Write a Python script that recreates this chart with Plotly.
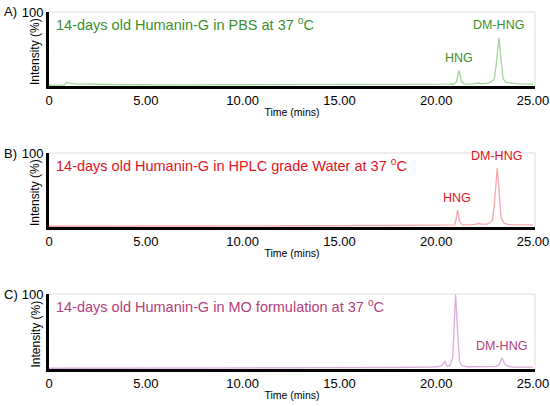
import plotly.graph_objects as go

# retention time (mins) and relative intensity (%)
time_a = [0, 0.6, 0.8, 0.9, 1.0, 1.3, 1.8, 3, 6, 10, 14, 18, 19.5, 20.5, 20.7, 20.8, 20.9,
          21.05, 21.18, 21.3, 21.45, 21.8, 22.1, 22.2, 22.3, 22.5, 22.7, 22.9, 23.0, 23.1,
          23.24, 23.35, 23.45, 23.6, 23.8, 24.2, 24.6, 25.0]
int_a = [1, 1, 1.5, 5, 4, 3, 2.5, 2, 1.5, 1.5, 1.5, 1.5, 2, 2, 2.5, 3, 2.5,
         6, 21, 6, 3, 2.5, 3, 4, 3, 3.5, 4, 7, 10, 30,
         65, 35, 10, 5, 4, 3, 2.5, 2.5]

time_b = [0, 0.6, 0.9, 1.0, 1.3, 3, 6, 10, 14, 18, 19.5, 20.5, 20.8, 20.95, 21.02,
          21.1, 21.2, 21.35, 21.8, 22.0, 22.1, 22.15, 22.3, 22.6, 22.8, 22.9, 23.0,
          23.15, 23.25, 23.35, 23.5, 23.7, 24.0, 24.5, 25.0]
int_b = [1, 1, 1.5, 2, 2, 2, 2, 2, 2, 2, 2.5, 2.5, 3, 3, 10,
         23, 8, 3, 3, 3, 4, 5, 4, 4, 6, 9, 30,
         80, 45, 12, 5, 3.5, 3, 3, 3]

time_c = [0, 0.6, 0.9, 1.0, 1.3, 3, 6, 10, 14, 18, 19.5, 20.1, 20.3, 20.45, 20.55,
          20.7, 20.85, 20.93, 21.0, 21.08, 21.2, 21.35, 21.6, 22.0, 22.5, 23.1, 23.25,
          23.4, 23.55, 23.8, 24.0, 24.5, 25.0]
int_c = [1, 1, 1.5, 2, 2, 2, 2, 2, 2, 2, 2.5, 3, 5, 10, 4,
         4, 15, 70, 100, 60, 10, 4, 3, 3, 3, 3.5, 6,
         15, 6, 3, 2.5, 2.5, 2.5]

titles = ["14-days old Humanin-G in PBS at 37 <sup>o</sup>C",
          "14-days old Humanin-G in HPLC grade Water at 37 <sup>o</sup>C",
          "14-days old Humanin-G in MO formulation at 37 <sup>o</sup>C"]
panel_tags = ["A)", "B)", "C)"]
line_colors = ["#a3d69c", "#f5a8aa", "#dcaedc"]
text_colors = ["#3d8f2c", "#e3121c", "#b23e7c"]

# peak labels: (time, intensity) of label anchor for HNG and DM-HNG
hng_pos = [(21.15, 25), (21.05, 27), (21.0, 101)]
dm_pos = [(23.2, 70), (23.1, 84), (23.35, 19)]

tick_vals = [0, 5, 10, 15, 20, 25]
tick_text = ["0", "5.00", "10.00", "15.00", "20.00", "25.00"]

series = [(time_a, int_a), (time_b, int_b), (time_c, int_c)]

# panel y-domains in paper coords (406 px tall, no margins)
domains = [(1 - 86 / 406, 1 - 12 / 406), (1 - 227 / 406, 1 - 153 / 406), (1 - 369 / 406, 1 - 294 / 406)]
x_dom = [49 / 550, 535 / 550]

fig = go.Figure()
font_main = "Arial, Liberation Sans, sans-serif"
annotations = []
shapes = []

for i, (t, v) in enumerate(series):
    n = "" if i == 0 else str(i + 1)
    xa, ya = "x" + n, "y" + n
    fig.add_trace(go.Scatter(x=t, y=v, mode="lines", xaxis=xa, yaxis=ya,
                             line=dict(color=line_colors[i], width=1.3),
                             showlegend=False, hoverinfo="skip"))
    fig.layout["xaxis" + n] = dict(
        domain=x_dom, anchor=ya, range=[0, 25.1], tickvals=tick_vals, ticktext=tick_text,
        showgrid=False, zeroline=False, showline=True, linecolor="black", linewidth=3,
        ticks="", ticklen=0, tickfont=dict(size=13, color="black"), automargin=False,
        ticklabeloverflow="allow",
        title=dict(text="Time (mins)", font=dict(size=10.5, color="black"), standoff=3))
    fig.layout["yaxis" + n] = dict(
        domain=list(domains[i]), anchor=xa, range=[0, 100], tickvals=[100], ticktext=["100"],
        showgrid=False, zeroline=False, showline=True, linecolor="black", linewidth=3,
        ticks="", tickfont=dict(size=13, color="black"), automargin=False)
    # light frame on top and right
    shapes.append(dict(type="line", xref=xa + " domain", yref=ya + " domain",
                       x0=0, x1=1, y0=1, y1=1, line=dict(color="#dddddd", width=1)))
    shapes.append(dict(type="line", xref=xa + " domain", yref=ya + " domain",
                       x0=1, x1=1, y0=0, y1=1, line=dict(color="#dddddd", width=1)))
    annotations.append(dict(text=titles[i], xref=xa + " domain", yref=ya + " domain",
                            x=0.01, y=0.99, xanchor="left", yanchor="top", showarrow=False,
                            font=dict(size=14.5, color=text_colors[i])))
    annotations.append(dict(text=panel_tags[i], xref="paper", yref="paper",
                            x=2 / 550, y=domains[i][1], xanchor="left", yanchor="middle",
                            showarrow=False, font=dict(size=13, color="black")))
    annotations.append(dict(text="Intensity (%)", xref="paper", yref="paper", textangle=-90,
                            x=35 / 550, y=(domains[i][0] + domains[i][1]) / 2 - 2 / 406,
                            xanchor="center", yanchor="middle", showarrow=False,
                            font=dict(size=12, color="black")))
    annotations.append(dict(text="HNG", x=hng_pos[i][0], y=hng_pos[i][1], xref=xa, yref=ya,
                            xanchor="center", yanchor="bottom", showarrow=False,
                            font=dict(size=12.5, color=text_colors[i])))
    annotations.append(dict(text="DM-HNG", x=dm_pos[i][0], y=dm_pos[i][1], xref=xa, yref=ya,
                            xanchor="center", yanchor="bottom", showarrow=False,
                            font=dict(size=12.5, color=text_colors[i])))

fig.update_layout(width=550, height=406, margin=dict(l=0, r=0, t=0, b=0),
                  paper_bgcolor="white", plot_bgcolor="white",
                  font=dict(family=font_main), annotations=annotations, shapes=shapes)

# page body has a default 8px margin; drop it so the figure fills the window
fig.write_html("out.html", config={"displayModeBar": False},
               post_script="document.body.style.margin='0';")
